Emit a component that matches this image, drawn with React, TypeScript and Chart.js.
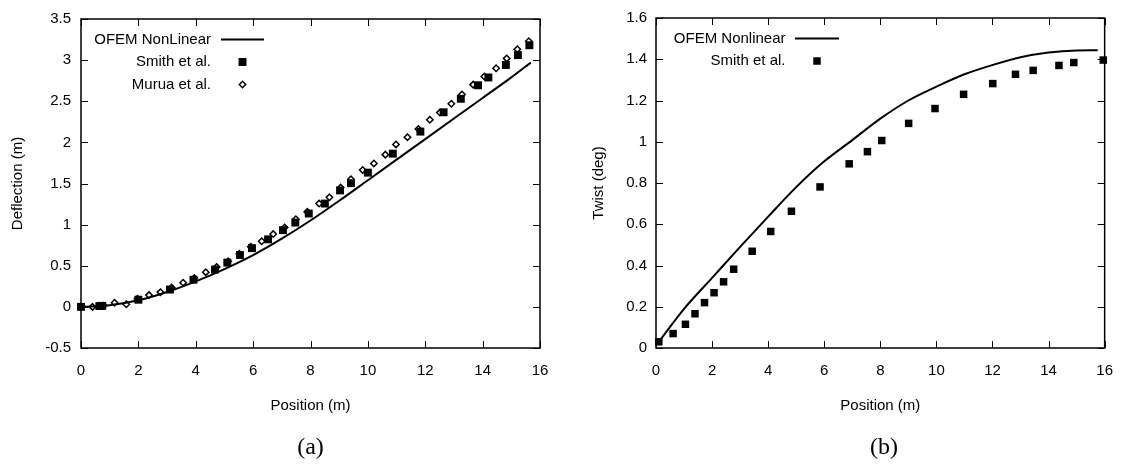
import React, { useEffect, useRef } from "react";
import { Chart, registerables } from "chart.js";

Chart.register(...registerables);

const FONT_FAMILY = "'Liberation Sans', Arial, Helvetica, sans-serif";
const FONT_SIZE = 15;

// ---------- shared axis ticks ----------
const positionTicks = [0, 2, 4, 6, 8, 10, 12, 14, 16];
const deflectionTicks = [-0.5, 0, 0.5, 1, 1.5, 2, 2.5, 3, 3.5];
const twistTicks = [0, 0.2, 0.4, 0.6, 0.8, 1, 1.2, 1.4, 1.6];

// ---------- panel (a): deflection ----------
const ofemDeflX = [0, 1, 2, 3, 4, 5, 6, 7, 8, 9, 10, 11, 12, 13, 14, 15, 15.68];
const ofemDeflY = [0, 0.02, 0.08, 0.18, 0.31, 0.46, 0.63, 0.83, 1.05, 1.29, 1.54, 1.79, 2.04, 2.29, 2.54, 2.79, 2.97];

const smithDeflX = [0, 0.64, 0.74, 2.0, 3.1, 3.92, 4.67, 5.1, 5.54, 5.96, 6.52, 7.04, 7.47, 7.94, 8.5, 9.03, 9.41, 10.0, 10.87, 11.83, 12.64, 13.24, 13.84, 14.2, 14.81, 15.23, 15.63];
const smithDeflY = [0, 0.01, 0.012, 0.087, 0.211, 0.33, 0.454, 0.538, 0.63, 0.714, 0.821, 0.933, 1.025, 1.135, 1.256, 1.416, 1.504, 1.632, 1.863, 2.131, 2.366, 2.53, 2.694, 2.789, 2.941, 3.061, 3.181];

const muruaDeflX = [0.4, 0.79, 1.17, 1.58, 1.97, 2.37, 2.77, 3.16, 3.56, 3.95, 4.35, 4.73, 5.13, 5.52, 5.92, 6.3, 6.7, 7.1, 7.49, 7.89, 8.3, 8.66, 9.05, 9.41, 9.82, 10.21, 10.61, 10.98, 11.38, 11.76, 12.16, 12.51, 12.91, 13.28, 13.67, 14.06, 14.47, 14.84, 15.21, 15.61];
const muruaDeflY = [0.0, 0.015, 0.051, 0.031, 0.1, 0.143, 0.179, 0.235, 0.294, 0.35, 0.422, 0.486, 0.555, 0.645, 0.73, 0.798, 0.885, 0.965, 1.065, 1.155, 1.256, 1.332, 1.45, 1.552, 1.664, 1.744, 1.851, 1.975, 2.063, 2.163, 2.274, 2.362, 2.47, 2.582, 2.702, 2.801, 2.901, 3.021, 3.133, 3.229];

// ---------- panel (b): twist ----------
const ofemTwistX = [0.1, 1, 2, 3, 4, 5, 6, 7, 8, 9, 10, 11, 12, 13, 14, 15, 15.75];
const ofemTwistY = [0.03, 0.19, 0.34, 0.49, 0.637, 0.78, 0.905, 1.008, 1.112, 1.2, 1.267, 1.327, 1.372, 1.41, 1.433, 1.443, 1.444];

const smithTwistX = [0.1, 0.61, 1.05, 1.39, 1.73, 2.07, 2.41, 2.77, 3.43, 4.09, 4.83, 5.85, 6.89, 7.54, 8.05, 9.01, 9.95, 10.97, 12.01, 12.82, 13.45, 14.37, 14.9, 15.95];
const smithTwistY = [0.03, 0.07, 0.115, 0.166, 0.22, 0.268, 0.321, 0.382, 0.469, 0.565, 0.663, 0.781, 0.893, 0.952, 1.006, 1.089, 1.161, 1.23, 1.282, 1.327, 1.346, 1.37, 1.384, 1.396];

const toPoints = (xs: number[], ys: number[]) => xs.map((x, i) => ({ x, y: ys[i] }));

// gnuplot-like frame with inward tick marks on all four sides
const frameAndTicks = {
  id: "frameAndTicks",
  beforeDatasetsDraw(chart: any) {
    const { ctx, chartArea: a, scales } = chart;
    const L = 7;
    ctx.save();
    ctx.strokeStyle = "#000";
    ctx.lineWidth = 1;
    ctx.beginPath();
    for (const t of scales.x.ticks) {
      const px = Math.round(scales.x.getPixelForValue(t.value)) + 0.5;
      ctx.moveTo(px, a.bottom);
      ctx.lineTo(px, a.bottom - L);
      ctx.moveTo(px, a.top);
      ctx.lineTo(px, a.top + L);
    }
    for (const t of scales.y.ticks) {
      const py = Math.round(scales.y.getPixelForValue(t.value)) + 0.5;
      ctx.moveTo(a.left, py);
      ctx.lineTo(a.left + L, py);
      ctx.moveTo(a.right, py);
      ctx.lineTo(a.right - L, py);
    }
    ctx.stroke();
    ctx.lineWidth = 1.5;
    ctx.strokeRect(a.left, a.top, a.right - a.left, a.bottom - a.top);
    ctx.restore();
  },
};

// gnuplot-like key: right-aligned label followed by the sample
const insideLegend = {
  id: "insideLegend",
  afterDatasetsDraw(chart: any, _args: any, opts: any) {
    const { ctx, chartArea: a } = chart;
    ctx.save();
    ctx.font = `${FONT_SIZE}px ${FONT_FAMILY}`;
    ctx.fillStyle = "#000";
    ctx.strokeStyle = "#000";
    ctx.textAlign = "right";
    ctx.textBaseline = "middle";
    chart.data.datasets.forEach((ds: any, i: number) => {
      const y = a.top + opts.top + i * opts.rowGap;
      ctx.fillText(ds.label, a.left + opts.textRight, y);
      const cx = a.left + opts.symbolX;
      if (ds.showLine) {
        ctx.lineWidth = ds.borderWidth;
        ctx.beginPath();
        ctx.moveTo(cx - opts.lineHalf, y);
        ctx.lineTo(cx + opts.lineHalf, y);
        ctx.stroke();
      } else if (ds.pointStyle === "rect") {
        const s = ds.pointRadius * Math.SQRT1_2;
        ctx.fillRect(cx - s, y - s, 2 * s, 2 * s);
      } else {
        const r = ds.pointRadius;
        ctx.lineWidth = ds.borderWidth;
        ctx.beginPath();
        ctx.moveTo(cx - r, y);
        ctx.lineTo(cx, y - r);
        ctx.lineTo(cx + r, y);
        ctx.lineTo(cx, y + r);
        ctx.closePath();
        ctx.stroke();
      }
    });
    ctx.restore();
  },
};

const font = { family: FONT_FAMILY, size: FONT_SIZE };

function makeConfig(p: {
  datasets: any[];
  yMin: number;
  yMax: number;
  yTicks: number[];
  yTitle: string;
  yTitlePad: number;
  yLabelPad: number;
  rightPad: number;
  legend: any;
}): any {
  return {
    type: "scatter",
    data: { datasets: p.datasets },
    plugins: [frameAndTicks, insideLegend],
    options: {
      animation: false,
      responsive: false,
      maintainAspectRatio: false,
      events: [],
      layout: { padding: { top: 14, left: 0, right: p.rightPad, bottom: 49 } },
      plugins: {
        legend: { display: false },
        tooltip: { enabled: false },
        insideLegend: p.legend,
      },
      scales: {
        x: {
          type: "linear",
          min: 0,
          max: 16,
          afterBuildTicks: (s: any) => {
            s.ticks = positionTicks.map((v) => ({ value: v }));
          },
          afterFit: (s: any) => {
            s.height = 67;
          },
          ticks: {
            font,
            color: "#000",
            padding: 14,
            maxRotation: 0,
            autoSkip: false,
            callback: (v: any) => String(v),
          },
          grid: { display: false, drawTicks: false },
          border: { display: false },
          title: { display: true, text: "Position (m)", font, color: "#000", padding: 0 },
        },
        y: {
          type: "linear",
          min: p.yMin,
          max: p.yMax,
          afterBuildTicks: (s: any) => {
            s.ticks = p.yTicks.map((v) => ({ value: v }));
          },
          afterFit: (s: any) => {
            s.width = 81;
          },
          ticks: {
            font,
            color: "#000",
            padding: p.yLabelPad,
            autoSkip: false,
            callback: (v: any) => String(v),
          },
          grid: { display: false, drawTicks: false },
          border: { display: false },
          title: {
            display: true,
            text: p.yTitle,
            font,
            color: "#000",
            padding: { top: p.yTitlePad, bottom: 0 },
          },
        },
      },
    },
  };
}

const lineStyle = {
  showLine: true,
  borderColor: "#000",
  backgroundColor: "#000",
  borderWidth: 2,
  pointRadius: 0,
  fill: false,
  cubicInterpolationMode: "monotone",
  clip: false,
  order: 3,
};

const squareStyle = {
  showLine: false,
  pointStyle: "rect",
  pointRadius: 5.6,
  pointBackgroundColor: "#000",
  pointBorderColor: "#000",
  pointBorderWidth: 0,
  borderWidth: 0,
  backgroundColor: "#000",
  borderColor: "#000",
  clip: false,
  order: 2,
};

const diamondStyle = {
  showLine: false,
  pointStyle: "rectRot",
  pointRadius: 3.2,
  pointBackgroundColor: "rgba(0,0,0,0)",
  pointBorderColor: "#000",
  pointBorderWidth: 1.5,
  borderWidth: 1.5,
  backgroundColor: "rgba(0,0,0,0)",
  borderColor: "#000",
  clip: false,
  order: 1,
};

const deflectionConfig = () =>
  makeConfig({
    datasets: [
      { ...lineStyle, label: "OFEM NonLinear", data: toPoints(ofemDeflX, ofemDeflY) },
      { ...squareStyle, label: "Smith et al.", data: toPoints(smithDeflX, smithDeflY) },
      { ...diamondStyle, label: "Murua et al.", data: toPoints(muruaDeflX, muruaDeflY) },
    ],
    yMin: -0.5,
    yMax: 3.5,
    yTicks: deflectionTicks,
    yTitle: "Deflection (m)",
    yTitlePad: 9,
    yLabelPad: 10,
    rightPad: 35,
    legend: { top: 20.5, rowGap: 22.5, textRight: 130, symbolX: 161.5, lineHalf: 21.5 },
  });

const twistConfig = () =>
  makeConfig({
    datasets: [
      { ...lineStyle, label: "OFEM Nonlinear", data: toPoints(ofemTwistX, ofemTwistY) },
      { ...squareStyle, pointRadius: 5.3, label: "Smith et al.", data: toPoints(smithTwistX, smithTwistY) },
    ],
    yMin: 0,
    yMax: 1.6,
    yTicks: twistTicks,
    yTitle: "Twist (deg)",
    yTitlePad: 15,
    yLabelPad: 9,
    rightPad: 15,
    legend: { top: 20.5, rowGap: 22.5, textRight: 129.5, symbolX: 161, lineHalf: 22 },
  });

function Panel({ left, width, build }: { left: number; width: number; build: () => any }) {
  const ref = useRef<HTMLCanvasElement | null>(null);
  useEffect(() => {
    if (!ref.current) return;
    const chart = new Chart(ref.current, build());
    return () => chart.destroy();
  }, []);
  return (
    <canvas
      ref={ref}
      width={width}
      height={464}
      style={{ position: "absolute", left, top: 0, width, height: 464, display: "block" }}
    />
  );
}

const captionStyle = (cx: number): React.CSSProperties => ({
  position: "absolute",
  left: cx - 40,
  width: 80,
  top: 433,
  height: 26,
  lineHeight: "26px",
  textAlign: "center",
  fontFamily: "'Liberation Serif', 'DejaVu Serif', serif",
  fontSize: 24,
  color: "#000",
});

export default function App() {
  return (
    <div
      style={{
        position: "absolute",
        left: 0,
        top: 0,
        width: 1127,
        height: 464,
        background: "#fff",
        overflow: "hidden",
      }}
    >
      <Panel left={0} width={575} build={deflectionConfig} />
      <Panel left={575} width={552} build={twistConfig} />
      <div style={captionStyle(310.5)}>(a)</div>
      <div style={captionStyle(884)}>(b)</div>
    </div>
  );
}
